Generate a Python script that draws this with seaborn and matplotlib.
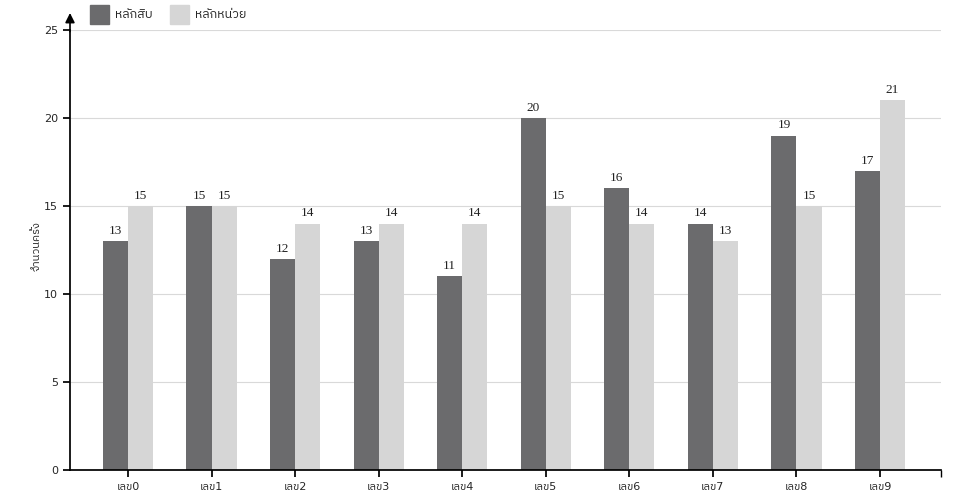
import matplotlib
matplotlib.use("Agg")
import matplotlib.pyplot as plt
import seaborn as sns
import pandas as pd
from matplotlib import font_manager

# ข้อมูล
categories = ["เลข0", "เลข1", "เลข2", "เลข3", "เลข4", "เลข5", "เลข6", "เลข7", "เลข8", "เลข9"]
tens = [13, 15, 12, 13, 11, 20, 16, 14, 19, 17]
units = [15, 15, 14, 14, 14, 15, 14, 13, 15, 21]
series_names = ["หลักสิบ", "หลักหน่วย"]
yticks = [0, 5, 10, 15, 20, 25]
colors = ["#6b6b6d", "#d6d6d6"]

df = pd.DataFrame({
    "cat": categories * 2,
    "val": tens + units,
    "series": [series_names[0]] * len(categories) + [series_names[1]] * len(categories),
})

sns.set_theme(style="white")
names = sorted({f.name for f in font_manager.fontManager.ttflist})
thai = [n for n in names if "Thai" in n]
thai_sans = [n for n in thai if "Serif" not in n and "Looped" not in n] + [n for n in thai if "Serif" not in n]
plt.rcParams["font.family"] = ["DejaVu Sans"] + thai_sans + thai

fig = plt.figure(figsize=(9.6, 5), dpi=100)
ax = fig.add_axes([70 / 960, 30 / 500, 871 / 960, 440 / 500])

sns.barplot(data=df, x="cat", y="val", hue="series", palette=colors,
            width=0.6, dodge=True, ax=ax, legend=False, saturation=1, linewidth=0)

for cont in ax.containers:
    ax.bar_label(cont, padding=3, fontsize=9.5, family="Liberation Serif", color="#222222")

ax.set_ylim(0, 25)
ax.set_xlim(-0.694, 9.73)
ax.set_yticks(yticks)
ax.set_xticks([9.73], minor=True)
ax.yaxis.grid(True, color="#d9d9d9", linewidth=0.8)
ax.set_axisbelow(True)
for s in ["top", "right"]:
    ax.spines[s].set_visible(False)
ax.spines["left"].set_color("black")
ax.spines["bottom"].set_color("black")
ax.tick_params(axis="both", which="both", direction="out", length=5, color="black",
               labelsize=8, left=True, bottom=True)
ax.set_xlabel("")
ax.set_ylabel("จำนวนครั้ง", fontsize=8)
ax.yaxis.set_label_coords(-0.033, 0.51)

# ลูกศรแกน y
ax.annotate("", xy=(0, 1.045), xytext=(0, 0.99), xycoords="axes fraction",
            arrowprops=dict(arrowstyle="-|>", color="black", lw=1.2, mutation_scale=14))

# legend ด้านบน
for i, (name, col) in enumerate(zip(series_names, colors)):
    x0 = 90 + i * 80
    fig.patches.append(plt.Rectangle((x0 / 960, 1 - 24 / 500), 19 / 960, 19 / 500,
                                     transform=fig.transFigure, color=col))
    fig.text((x0 + 25) / 960, 1 - 14.5 / 500, name, va="center", fontsize=9)

fig.savefig("out.png", dpi=100)
